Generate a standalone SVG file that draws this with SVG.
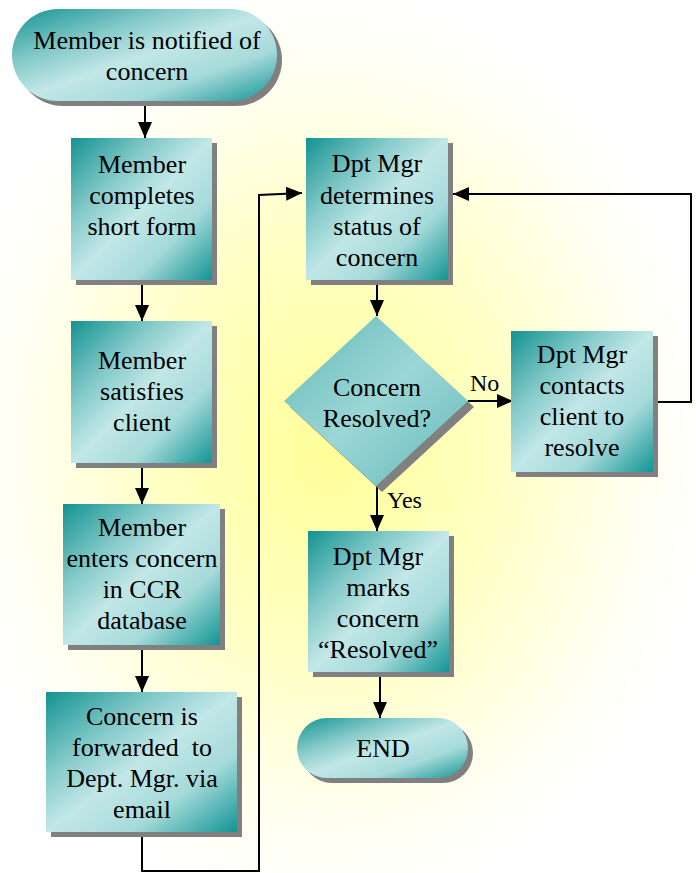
<svg xmlns="http://www.w3.org/2000/svg" width="696" height="873" viewBox="0 0 696 873" font-family="Liberation Serif, Times New Roman, serif">
  <defs>
    <radialGradient id="bgGlow" gradientUnits="userSpaceOnUse" cx="330" cy="450" r="400" gradientTransform="translate(330 450) scale(0.95 1.15) translate(-330 -450)">
      <stop offset="0" stop-color="#FFFF99"/>
      <stop offset="0.45" stop-color="#FFFFC4"/>
      <stop offset="0.8" stop-color="#FFFFF0"/>
      <stop offset="1" stop-color="#FFFFFF"/>
    </radialGradient>
    <linearGradient id="tealFill" x1="0" y1="0" x2="1" y2="1">
      <stop offset="0" stop-color="#139292"/>
      <stop offset="0.3" stop-color="#86CACA"/>
      <stop offset="0.5" stop-color="#C2E7E7"/>
      <stop offset="0.72" stop-color="#A6DADA"/>
      <stop offset="1" stop-color="#129494"/>
    </linearGradient>
    <linearGradient id="diamondFill" x1="0" y1="0" x2="1" y2="1">
      <stop offset="0" stop-color="#62BABA"/>
      <stop offset="0.5" stop-color="#9CD6D6"/>
      <stop offset="1" stop-color="#62BABA"/>
    </linearGradient>
    <marker id="arrow" markerUnits="userSpaceOnUse" markerWidth="18" markerHeight="14" refX="16" refY="7" orient="auto">
      <path d="M0,0 L16,7 L0,14 Z" fill="#000"/>
    </marker>
    <style>
      .box { fill: url(#tealFill); }
      .shadow { fill: #808080; }
      .label { font-size: 26px; text-anchor: middle; fill: #000; }
      .tag { font-size: 24px; fill: #000; }
      .link { fill: none; stroke: #000; stroke-width: 2; marker-end: url(#arrow); }
    </style>
  </defs>

  <!-- background glow -->
  <rect x="0" y="0" width="696" height="873" fill="url(#bgGlow)"/>

  <!-- connectors -->
  <g id="connectors">
    <line class="link" x1="145" y1="106" x2="145" y2="138"/>
    <line class="link" x1="142" y1="285" x2="142" y2="321"/>
    <line class="link" x1="142" y1="468" x2="142" y2="504"/>
    <line class="link" x1="142" y1="650" x2="142" y2="692"/>
    <polyline class="link" points="142,832 142,871 259,871 259,195 302,193"/>
    <line class="link" x1="377" y1="285" x2="377" y2="316"/>
    <line class="link" x1="468" y1="401" x2="513" y2="401"/>
    <line class="link" x1="377" y1="486" x2="377" y2="531"/>
    <line class="link" x1="380" y1="677" x2="380" y2="718"/>
    <polyline class="link" points="658,402 691,402 691,194 453,194"/>
    <text class="tag" x="470" y="391">No</text>
    <text class="tag" x="387" y="508">Yes</text>
  </g>

  <g id="start">
    <rect class="shadow" x="17" y="14" width="265" height="92" rx="46"/>
    <rect class="box" x="12" y="9" width="265" height="92" rx="46"/>
    <text class="label" x="147" y="49">Member is notified of</text>
    <text class="label" x="147" y="80">concern</text>
  </g>

  <g id="completes-form">
    <rect class="shadow" x="76" y="143" width="141" height="142"/>
    <rect class="box" x="71" y="138" width="141" height="142"/>
    <text class="label" x="142" y="173">Member</text>
    <text class="label" x="142" y="204">completes</text>
    <text class="label" x="142" y="235">short form</text>
  </g>

  <g id="satisfies-client">
    <rect class="shadow" x="76" y="326" width="141" height="142"/>
    <rect class="box" x="71" y="321" width="141" height="142"/>
    <text class="label" x="142" y="369">Member</text>
    <text class="label" x="142" y="400">satisfies</text>
    <text class="label" x="142" y="431">client</text>
  </g>

  <g id="enters-concern">
    <rect class="shadow" x="68" y="509" width="157" height="141"/>
    <rect class="box" x="63" y="504" width="157" height="141"/>
    <text class="label" x="142" y="536">Member</text>
    <text class="label" x="142" y="567">enters concern</text>
    <text class="label" x="142" y="598">in CCR</text>
    <text class="label" x="142" y="629">database</text>
  </g>

  <g id="forwarded">
    <rect class="shadow" x="51" y="697" width="191" height="140"/>
    <rect class="box" x="46" y="692" width="191" height="140"/>
    <text class="label" x="142" y="725">Concern is</text>
    <text class="label" x="142" y="756" xml:space="preserve">forwarded  to</text>
    <text class="label" x="142" y="787">Dept. Mgr. via</text>
    <text class="label" x="142" y="818">email</text>
  </g>

  <g id="determines-status">
    <rect class="shadow" x="311" y="143" width="142" height="142"/>
    <rect class="box" x="306" y="138" width="142" height="142"/>
    <text class="label" x="377" y="172">Dpt Mgr</text>
    <text class="label" x="377" y="204">determines</text>
    <text class="label" x="377" y="235">status of</text>
    <text class="label" x="377" y="266">concern</text>
  </g>

  <g id="resolved-decision">
    <polygon class="shadow" points="382,322 474,407 382,492 290,407"/>
    <polygon fill="url(#diamondFill)" points="376,316 468,401 376,486 284,401"/>
    <text class="label" x="377" y="396">Concern</text>
    <text class="label" x="377" y="427">Resolved?</text>
  </g>

  <g id="contacts-client">
    <rect class="shadow" x="516" y="336" width="142" height="141"/>
    <rect class="box" x="511" y="331" width="142" height="141"/>
    <text class="label" x="582" y="363">Dpt Mgr</text>
    <text class="label" x="582" y="394">contacts</text>
    <text class="label" x="582" y="425">client to</text>
    <text class="label" x="582" y="456">resolve</text>
  </g>

  <g id="marks-resolved">
    <rect class="shadow" x="313" y="536" width="141" height="141"/>
    <rect class="box" x="308" y="531" width="141" height="141"/>
    <text class="label" x="378" y="565">Dpt Mgr</text>
    <text class="label" x="378" y="596">marks</text>
    <text class="label" x="378" y="627">concern</text>
    <text class="label" x="378" y="658">“Resolved”</text>
  </g>

  <g id="end">
    <rect class="shadow" x="302" y="723" width="171" height="60" rx="30"/>
    <rect class="box" x="297" y="718" width="171" height="60" rx="30"/>
    <text class="label" x="383" y="757">END</text>
  </g>
</svg>
